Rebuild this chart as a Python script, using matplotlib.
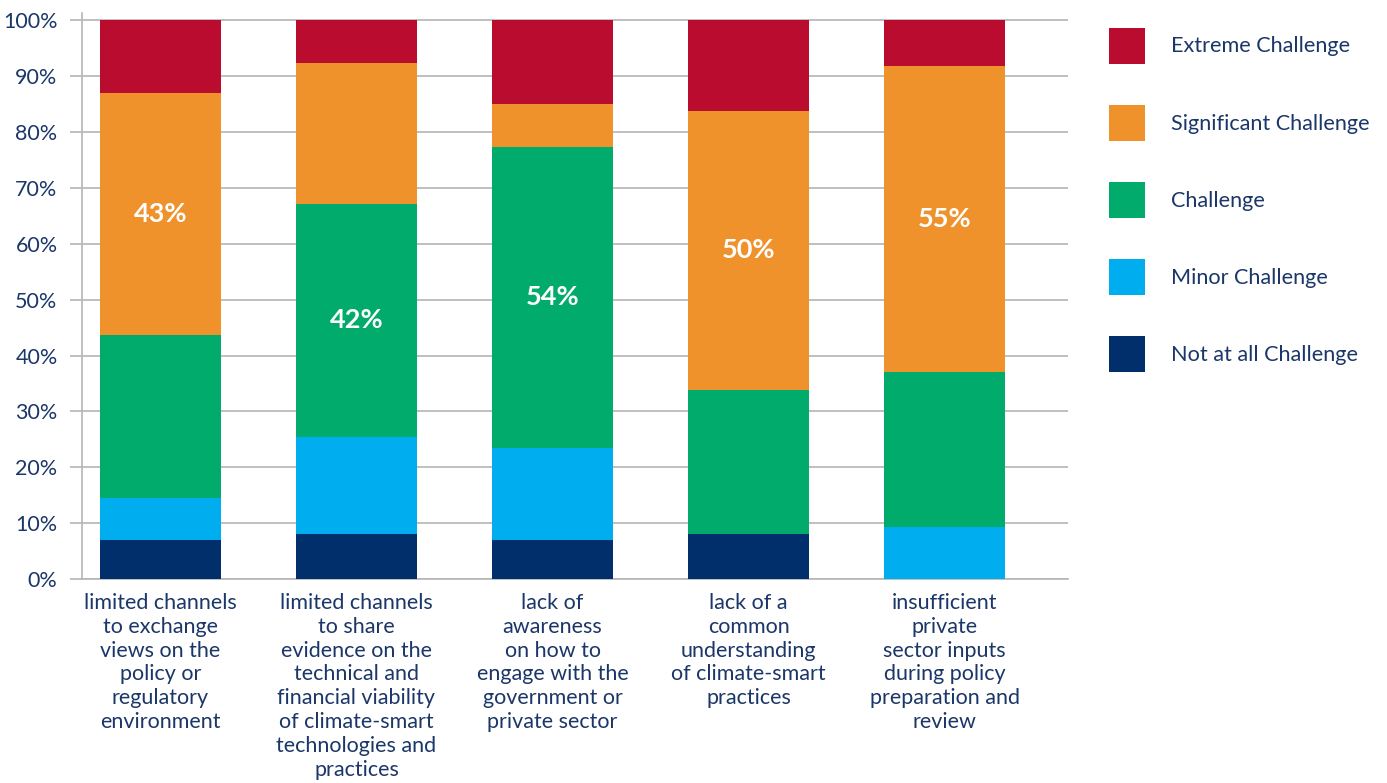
import matplotlib.pyplot as plt
import numpy as np
from matplotlib.patches import Patch

# values (percent of respondents)
categories = [
    "limited channels\nto exchange\nviews on the\npolicy or\nregulatory\nenvironment",
    "limited channels\nto share\nevidence on the\ntechnical and\nfinancial viability\nof climate-smart\ntechnologies and\npractices",
    "lack of\nawareness\non how to\nengage with the\ngovernment or\nprivate sector",
    "lack of a\ncommon\nunderstanding\nof climate-smart\npractices",
    "insufficient\nprivate\nsector inputs\nduring policy\npreparation and\nreview",
]
not_at_all = [7, 8, 7, 8, 0]
minor = [7.5, 17.4, 16.5, 0, 9.3]
challenge = [29.2, 41.8, 53.8, 25.8, 27.7]
significant = [43.3, 25.1, 7.7, 50.0, 54.8]
extreme = [13.0, 7.7, 15.0, 16.2, 8.2]

series_names = ["Not at all Challenge", "Minor Challenge", "Challenge",
                "Significant Challenge", "Extreme Challenge"]
series_vals = [not_at_all, minor, challenge, significant, extreme]
colors = ["#002F6C", "#00AEEF", "#00AB6B", "#F0922B", "#BA0C2F"]

navy = "#1B3668"
plt.rcParams['font.family'] = ['Lato', 'DejaVu Sans']

fig = plt.figure(figsize=(13.87, 7.83), dpi=100)
ax = fig.add_axes([0.0591, 0.2605, 0.711, 0.7229])

x = np.arange(len(categories))
data = np.array(series_vals)
bottom = np.zeros(len(categories))
biggest = data.argmax(axis=0)
for i, (name, vals, col) in enumerate(zip(series_names, series_vals, colors)):
    bars = ax.bar(x, vals, 0.62, bottom=bottom, color=col, label=name, zorder=3)
    labels = [f"{v:.0f}%" if biggest[j] == i else "" for j, v in enumerate(vals)]
    ax.bar_label(bars, labels=labels, label_type='center', color='white',
                 fontsize=19.5, fontweight='bold')
    bottom += np.array(vals)

ax.set_xlim(-0.4, 4.63)
ax.set_ylim(0, 101.3)
ax.set_yticks(np.arange(0, 101, 10))
ax.set_yticklabels([f"{t}%" for t in range(0, 101, 10)], fontsize=15.5, color=navy)
ax.grid(axis='y', color='#b5b5b5', linewidth=1.2, zorder=0)
ax.tick_params(axis='y', length=8.6, color='#b5b5b5', width=1.2, pad=9)
ax.set_xticks(x)
ax.set_xticklabels(categories, fontsize=15.5, color=navy, linespacing=1.24)
ax.tick_params(axis='x', length=0, pad=10)
for s in ['top', 'right']:
    ax.spines[s].set_visible(False)
ax.spines['left'].set_color('#b5b5b5')
ax.spines['left'].set_linewidth(1.2)
ax.spines['bottom'].set_color('#b5b5b5')
ax.spines['bottom'].set_linewidth(1.2)

handles = [Patch(facecolor=c, label=n) for n, c in zip(series_names, colors)][::-1]
leg = fig.legend(handles=handles, loc='upper left', bbox_to_anchor=(0.7935, 0.9757),
                 frameon=False, fontsize=15.6, handlelength=1.66, handleheight=2.18,
                 labelspacing=1.9, handletextpad=1.21, borderaxespad=0)
for t in leg.get_texts():
    t.set_color(navy)

fig.savefig("out.png", dpi=100, facecolor='white')
